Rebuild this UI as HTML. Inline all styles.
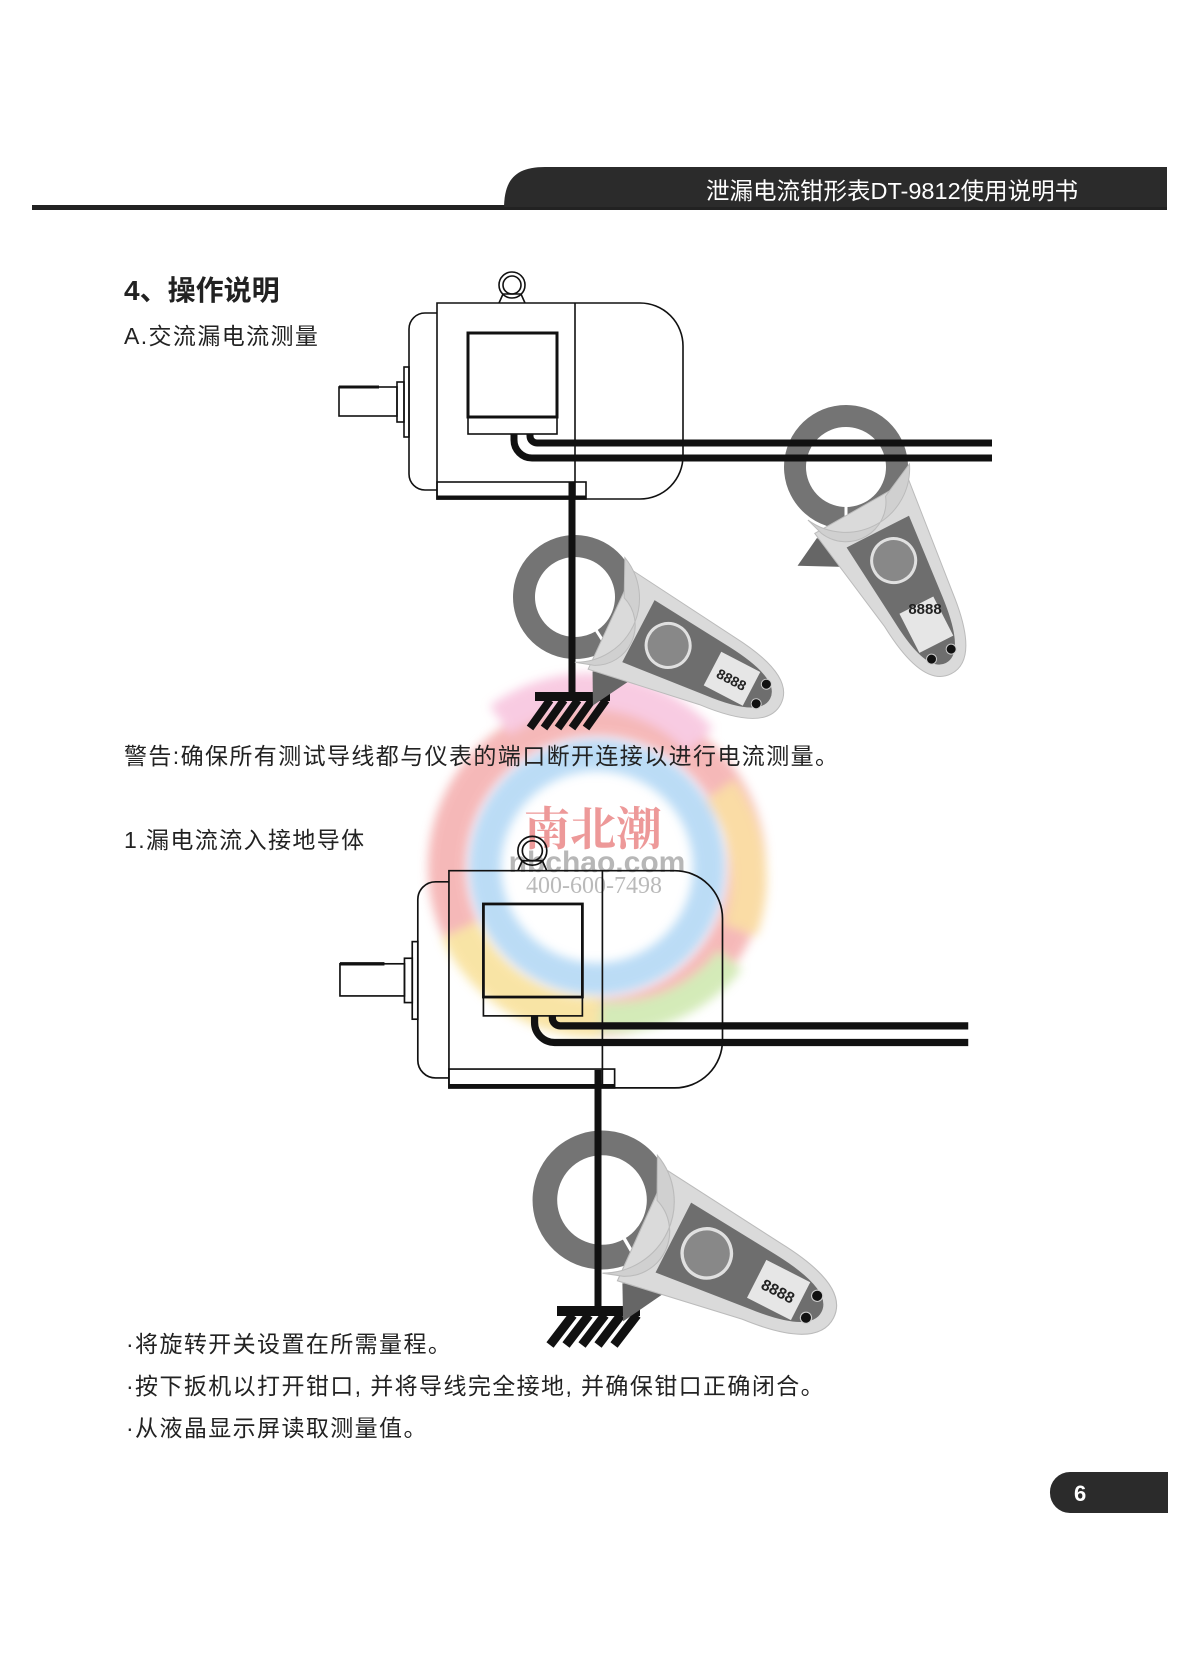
<!DOCTYPE html>
<html><head><meta charset="utf-8"><style>
html,body{margin:0;padding:0;background:#fff}
body{width:1200px;height:1664px;position:relative;overflow:hidden;font-family:"Liberation Sans","Noto Sans CJK SC",sans-serif;color:#222}
.t{position:absolute;white-space:nowrap;line-height:1;font-size:23px;letter-spacing:1.4px}
</style></head><body>
<svg width="1200" height="1664" viewBox="0 0 1200 1664" style="position:absolute;left:0;top:0">
<defs>
<filter id="bl"><feGaussianBlur stdDeviation="5"/></filter>
</defs>
<!-- header -->
<rect x="32" y="205" width="480" height="5" fill="#222"/>
<path d="M504 209 C504 180 515 167 545 167 L1167 167 L1167 209 Z" fill="#2b2b2b"/>
<rect x="504" y="207" width="663" height="3" fill="#222"/>
<text x="706" y="199" font-family="Liberation Sans,Noto Sans CJK SC,sans-serif" font-size="23.5" fill="#fff">泄漏电流钳形表DT-9812使用说明书</text>

<!-- watermark -->
<g opacity="0.6" filter="url(#bl)">
<circle cx="597" cy="867" r="150" fill="none" stroke="#f08a8a" stroke-width="38"/>
<path d="M460 930 A150 150 0 0 0 600 1017" fill="none" stroke="#f5d36a" stroke-width="40"/>
<path d="M720 790 A150 150 0 0 1 740 930" fill="none" stroke="#f7c56b" stroke-width="35"/>
<path d="M500 720 A150 150 0 0 1 700 740" fill="none" stroke="#f4a9cf" stroke-width="35"/>
<path d="M730 960 A150 150 0 0 1 600 1017" fill="none" stroke="#b8de8a" stroke-width="30"/>
<circle cx="597" cy="867" r="112" fill="none" stroke="#8ec5f0" stroke-width="32"/>
</g>
<text x="593" y="845" text-anchor="middle" font-family="Liberation Serif,Noto Serif CJK SC,serif" font-size="46" font-weight="bold" fill="#e98080" opacity="0.8">南北潮</text>
<text x="597" y="872" text-anchor="middle" font-size="30" font-weight="bold" fill="#9a9a9a" opacity="0.7">nbchao.com</text>
<text x="594" y="893" text-anchor="middle" font-family="Liberation Serif,serif" font-size="24" fill="#aaa" opacity="0.8">400-600-7498</text>

<!-- motor 1 -->
<g fill="none" stroke="#111" stroke-width="1.6">
<circle cx="512" cy="285" r="13" fill="#fff"/><circle cx="512" cy="285" r="9"/>
<path d="M499 303 L503 294 L521 294 L525 303"/>
<path d="M437 303 L640 303 A43 43 0 0 1 683 346 L683 456 A43 43 0 0 1 640 499 L437 499 Z"/>
<line x1="575" y1="303" x2="575" y2="499"/>
<path d="M437 313 L425 313 A16 16 0 0 0 409 329 L409 474 A16 16 0 0 0 425 490 L437 490"/>
<rect x="404" y="367" width="5" height="70"/>
<rect x="397" y="382" width="7" height="40"/>
<rect x="339" y="387" width="58" height="29"/>
<line x1="339" y1="387" x2="379" y2="387" stroke-width="3"/>
<rect x="468" y="333" width="89" height="84" stroke-width="3"/>
<rect x="468" y="417" width="89" height="17"/>
<rect x="437" y="482" width="149" height="17"/>
<line x1="437" y1="497" x2="586" y2="497" stroke-width="3"/>
</g>
<g fill="none" stroke="#111" stroke-width="7">
<path d="M530 434 L530 436 A7 7 0 0 0 537 443 L992 443"/>
<path d="M514 434 L514 440 A18 18 0 0 0 532 458 L992 458"/>
<line x1="572" y1="482" x2="572" y2="693"/>
</g>
<!-- ground 1 -->
<rect x="535" y="692" width="75" height="9" fill="#111"/>
<g stroke="#111" stroke-width="8">
<line x1="550" y1="700" x2="530" y2="728"/><line x1="564" y1="700" x2="544" y2="728"/><line x1="578" y1="700" x2="558" y2="728"/><line x1="592" y1="700" x2="572" y2="728"/><line x1="606" y1="700" x2="586" y2="728"/>
</g>

<!-- clamp 1 -->
<g transform="translate(575,597) rotate(27.5)">
<circle r="51" fill="none" stroke="#747474" stroke-width="22"/>
<line x1="-38" y1="0" x2="-64" y2="0" stroke="#fff" stroke-width="3" transform="rotate(-150)"/>
<path d="M50 58 L92 40 L66 88 Z" fill="#666"/>
<path d="M40 -50 L160 -38 Q232 -32 232 0 Q232 32 160 38 L45 58 Z" fill="#dadada" stroke="#bbb"/>
<path d="M26 -58 A64 64 0 0 1 30 58 L48 52 A40 40 0 0 0 44 -22 Z" fill="#d0d0d0" stroke="#bbb"/>
<path d="M72 -34 L160 -27 Q220 -22 220 0 Q220 22 160 27 L72 36 Z" fill="#6e6e6e"/>
<circle cx="105" cy="0" r="22" fill="#888" stroke="#e0e0e0" stroke-width="3"/>
<rect x="155" y="-19" width="44" height="38" fill="#e6e6e6"/>
<text x="177" y="6" text-anchor="middle" font-size="14" font-weight="bold" fill="#222">8888</text>
<circle cx="210" cy="-11" r="5" fill="#111" stroke="#ccc"/><circle cx="210" cy="11" r="5" fill="#111" stroke="#ccc"/>
</g>

<!-- clamp 2 -->
<g transform="translate(846,467) rotate(63)">
<circle r="51" fill="none" stroke="#747474" stroke-width="22"/>
</g>
<g fill="none" stroke="#111" stroke-width="7">
<line x1="780" y1="443" x2="992" y2="443"/><line x1="780" y1="458" x2="992" y2="458"/>
</g>
<g transform="translate(846,467) rotate(63)">
<line x1="-38" y1="0" x2="-64" y2="0" stroke="#fff" stroke-width="3" transform="rotate(-153)"/>
<path d="M50 58 L92 40 L66 88 Z" fill="#666"/>
<path d="M40 -50 L160 -38 Q232 -32 232 0 Q232 32 160 38 L45 58 Z" fill="#dadada" stroke="#bbb"/>
<path d="M26 -58 A64 64 0 0 1 30 58 L48 52 A40 40 0 0 0 44 -22 Z" fill="#d0d0d0" stroke="#bbb"/>
<path d="M72 -34 L160 -27 Q220 -22 220 0 Q220 22 160 27 L72 36 Z" fill="#6e6e6e"/>
<circle cx="105" cy="0" r="22" fill="#888" stroke="#e0e0e0" stroke-width="3"/>
<rect x="155" y="-19" width="44" height="38" fill="#e6e6e6"/>
<circle cx="210" cy="-11" r="5" fill="#111" stroke="#ccc"/><circle cx="210" cy="11" r="5" fill="#111" stroke="#ccc"/>
</g>
<text x="925" y="614" text-anchor="middle" font-size="15" font-weight="bold" fill="#222">8888</text>

<!-- motor 2 -->
<g transform="matrix(1.112,0,0,1.108,-37,535)">
<g fill="none" stroke="#111" stroke-width="1.5">
<circle cx="512" cy="285" r="13"/><circle cx="512" cy="285" r="9"/>
<path d="M499 303 L503 294 L521 294 L525 303"/>
<path d="M437 303 L640 303 A43 43 0 0 1 683 346 L683 456 A43 43 0 0 1 640 499 L437 499 Z"/>
<line x1="575" y1="303" x2="575" y2="499"/>
<path d="M437 313 L425 313 A16 16 0 0 0 409 329 L409 474 A16 16 0 0 0 425 490 L437 490"/>
<rect x="404" y="367" width="5" height="70"/>
<rect x="397" y="382" width="7" height="40"/>
<rect x="339" y="387" width="58" height="29"/>
<line x1="339" y1="387" x2="379" y2="387" stroke-width="3"/>
<rect x="468" y="333" width="89" height="84" stroke-width="2.5"/>
<rect x="468" y="417" width="89" height="17"/>
<rect x="437" y="482" width="149" height="17"/>
<line x1="437" y1="497" x2="586" y2="497" stroke-width="3"/>
</g>
<g fill="none" stroke="#111" stroke-width="6.5">
<path d="M530 434 L530 436 A7 7 0 0 0 537 443 L904 443"/>
<path d="M514 434 L514 440 A18 18 0 0 0 532 458 L904 458"/>
</g>
</g>
<line x1="598" y1="1070" x2="598" y2="1308" stroke="#111" stroke-width="7"/>
<!-- ground 2 -->
<rect x="557" y="1306" width="83" height="10" fill="#111"/>
<g stroke="#111" stroke-width="9">
<line x1="573" y1="1315" x2="550" y2="1345"/><line x1="589" y1="1315" x2="566" y2="1345"/><line x1="605" y1="1315" x2="582" y2="1345"/><line x1="621" y1="1315" x2="598" y2="1345"/><line x1="637" y1="1315" x2="614" y2="1345"/>
</g>
<!-- clamp 3 -->
<g transform="translate(602,1200) rotate(27) scale(1.12)">
<circle r="51" fill="none" stroke="#747474" stroke-width="22"/>
<line x1="-38" y1="0" x2="-64" y2="0" stroke="#fff" stroke-width="3" transform="rotate(-147)"/>
<path d="M50 58 L92 40 L66 88 Z" fill="#666"/>
<path d="M40 -50 L160 -38 Q232 -32 232 0 Q232 32 160 38 L45 58 Z" fill="#dadada" stroke="#bbb"/>
<path d="M26 -58 A64 64 0 0 1 30 58 L48 52 A40 40 0 0 0 44 -22 Z" fill="#d0d0d0" stroke="#bbb"/>
<path d="M72 -34 L160 -27 Q220 -22 220 0 Q220 22 160 27 L72 36 Z" fill="#6e6e6e"/>
<circle cx="105" cy="0" r="22" fill="#888" stroke="#e0e0e0" stroke-width="3"/>
<rect x="155" y="-19" width="44" height="38" fill="#e6e6e6"/>
<text x="177" y="6" text-anchor="middle" font-size="14" font-weight="bold" fill="#222">8888</text>
<circle cx="210" cy="-11" r="5" fill="#111" stroke="#ccc"/><circle cx="210" cy="11" r="5" fill="#111" stroke="#ccc"/>
</g>
<line x1="598" y1="1130" x2="598" y2="1270" stroke="#111" stroke-width="7"/>
<line x1="572" y1="535" x2="572" y2="660" stroke="#111" stroke-width="7"/>

<!-- page number -->
<path d="M1070 1472 L1168 1472 L1168 1513 L1070 1513 A20 20 0 0 1 1050 1493 A20 20 0 0 1 1070 1472 Z" fill="#2b2b2b"/>
<text x="1074" y="1501" font-size="22" font-weight="bold" fill="#fff">6</text>
</svg>

<div class="t" style="left:124px;top:277px;font-size:28px;font-weight:bold;letter-spacing:0">4、操作说明</div>
<div class="t" style="left:124px;top:325px">A.交流漏电流测量</div>
<div class="t" style="left:124px;top:745px">警告:确保所有测试导线都与仪表的端口断开连接以进行电流测量。</div>
<div class="t" style="left:124px;top:829px">1.漏电流流入接地导体</div>
<div class="t" style="left:126px;top:1333px">·将旋转开关设置在所需量程。</div>
<div class="t" style="left:126px;top:1375px">·按下扳机以打开钳口, 并将导线完全接地, 并确保钳口正确闭合。</div>
<div class="t" style="left:126px;top:1417px">·从液晶显示屏读取测量值。</div>
</body></html>
